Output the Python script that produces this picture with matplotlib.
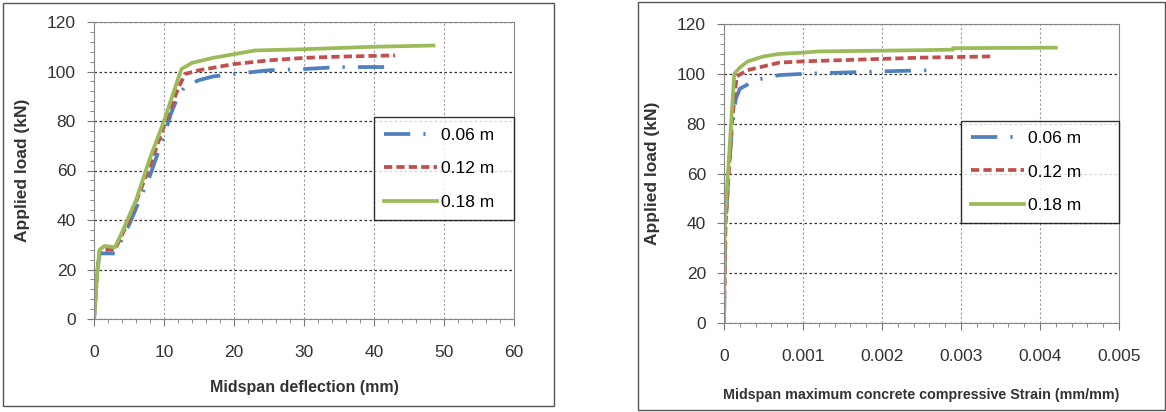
import numpy as np
import matplotlib.pyplot as plt
from matplotlib.patches import Rectangle
from matplotlib.ticker import MultipleLocator

plt.rcParams['font.family'] = ['Liberation Sans', 'DejaVu Sans']

labels = ['0.06 m', '0.12 m', '0.18 m']
colors = ['#4F81BD', '#C0504D', '#9BBB59']
styles = [(0, (7, 3.5, 0.6, 3.5)), (0, (2.2, 1.1)), '-']

# 挠度 - 荷载
defl_006 = [0, 0.5, 0.8, 3, 5, 8, 10, 11, 12, 13, 15, 17, 20, 25, 30, 35, 42]
load_006 = [0, 20, 26.5, 26.5, 38, 58, 74, 83, 90, 94, 96.5, 98, 99, 100.5, 101, 101.8, 101.8]
defl_012 = [0, 0.5, 0.8, 2, 3, 5, 8, 10, 12, 13, 15, 20, 25, 30, 35, 43]
load_012 = [0, 20, 27.5, 28, 28, 40, 62, 78, 93, 99, 100.5, 103, 104.5, 105.5, 106, 106.5]
defl_018 = [0, 0.5, 0.8, 1.5, 3, 4, 6, 8, 10, 12, 12.5, 14, 17, 20, 23, 30, 35, 40, 48.5]
load_018 = [0, 20, 28, 29.5, 29, 35, 48, 65, 80, 97, 101, 103.5, 105.5, 107, 108.5, 109, 109.5, 110, 110.5]

# 应变 - 荷载
strain_006 = [0, 0.00002, 0.00006, 0.0001, 0.00015, 0.0002, 0.0004, 0.0007, 0.001, 0.0015, 0.002, 0.0027]
sload_006 = [0, 40, 60, 78, 90, 94, 97.5, 99.5, 100, 100.5, 101, 101.5]
strain_012 = [0, 0.00002, 0.00006, 0.0001, 0.00013, 0.00016, 0.0003, 0.0005, 0.0007, 0.001, 0.0015, 0.002, 0.0025, 0.0034]
sload_012 = [0, 40, 60, 80, 90, 99, 101.5, 103, 104.5, 105, 105.5, 106, 106.5, 107]
strain_018 = [0, 0.00001, 0.00005, 0.0001, 0.00013, 0.0002, 0.0003, 0.0005, 0.0007, 0.001, 0.0012, 0.002, 0.0025, 0.0029, 0.0029, 0.0042]
sload_018 = [0, 40, 60, 85, 100, 102.5, 105, 107, 108, 108.5, 109, 109.3, 109.5, 109.7, 110.3, 110.5]

fig = plt.figure(figsize=(11.66, 4.12), dpi=100)

# 外框
for x0, y0, x1, y1 in [(3, 3, 554, 406), (638, 2, 1165, 410)]:
    fig.patches.append(Rectangle((x0 / 1166, 1 - y1 / 412), (x1 - x0) / 1166, (y1 - y0) / 412,
                                 transform=fig.transFigure, fill=False, ec='#555555', lw=1))

ax1 = fig.add_axes([94 / 1166, 1 - 319 / 412, 420 / 1166, 297 / 412])
ax2 = fig.add_axes([724 / 1166, 1 - 323 / 412, 395 / 1166, 299 / 412])

data1 = [(defl_006, load_006), (defl_012, load_012), (defl_018, load_018)]
data2 = [(strain_006, sload_006), (strain_012, sload_012), (strain_018, sload_018)]

for ax, data, xmax, xstep, xlabel, legx, xlfs, xlpad in [
        (ax1, data1, 60, 10, 'Midspan deflection (mm)', 2 / 3, 11.5, 14),
        (ax2, data2, 0.005, 0.001, 'Midspan maximum concrete compressive Strain (mm/mm)', 0.6, 10.3, 17)]:
    for (x, y), c, ls, lb in zip(data, colors, styles, labels):
        ax.plot(x, y, color=c, ls=ls, lw=2.7, label=lb)
    ax.set_xlim(0, xmax)
    ax.set_ylim(0, 120)
    ax.xaxis.set_major_locator(MultipleLocator(xstep))
    ax.xaxis.set_minor_locator(MultipleLocator(xstep / 5))
    ax.yaxis.set_major_locator(MultipleLocator(20))
    ax.yaxis.set_minor_locator(MultipleLocator(4))
    ax.grid(True, axis='x', color='#999999', ls=(0, (2, 2)), lw=0.8)
    ax.grid(True, axis='y', color='#333333', ls=(0, (2, 2)), lw=0.9)
    ax.tick_params(which='both', direction='out', color='#777777', labelsize=12.5, labelcolor='#333333')
    ax.tick_params(which='major', length=5)
    ax.tick_params(which='minor', length=3)
    ax.tick_params(axis='x', which='major', pad=14)
    ax.tick_params(axis='y', which='major', pad=8)
    for s in ax.spines.values():
        s.set_color('#888888')
    ax.set_xlabel(xlabel, fontsize=xlfs, fontweight='bold', color='#333333', labelpad=xlpad)
    ax.set_ylabel('Applied load (kN)', fontsize=12.5, fontweight='bold', color='#333333', labelpad=12)
    # 图例
    leg = ax.legend(loc='lower left', bbox_to_anchor=(legx, 1 / 3, 1 - legx, 1 / 3), mode='expand',
                    fontsize=12.5, frameon=True, fancybox=False, edgecolor='black',
                    handlelength=3.0, handletextpad=0.25, borderaxespad=0, labelspacing=1.05,
                    borderpad=0.6)
    leg.get_frame().set_linewidth(1)

ax2.xaxis.set_major_formatter(plt.FuncFormatter(lambda v, p: '0' if v == 0 else f'{v:.3f}'))

plt.savefig('out.png', dpi=100)
